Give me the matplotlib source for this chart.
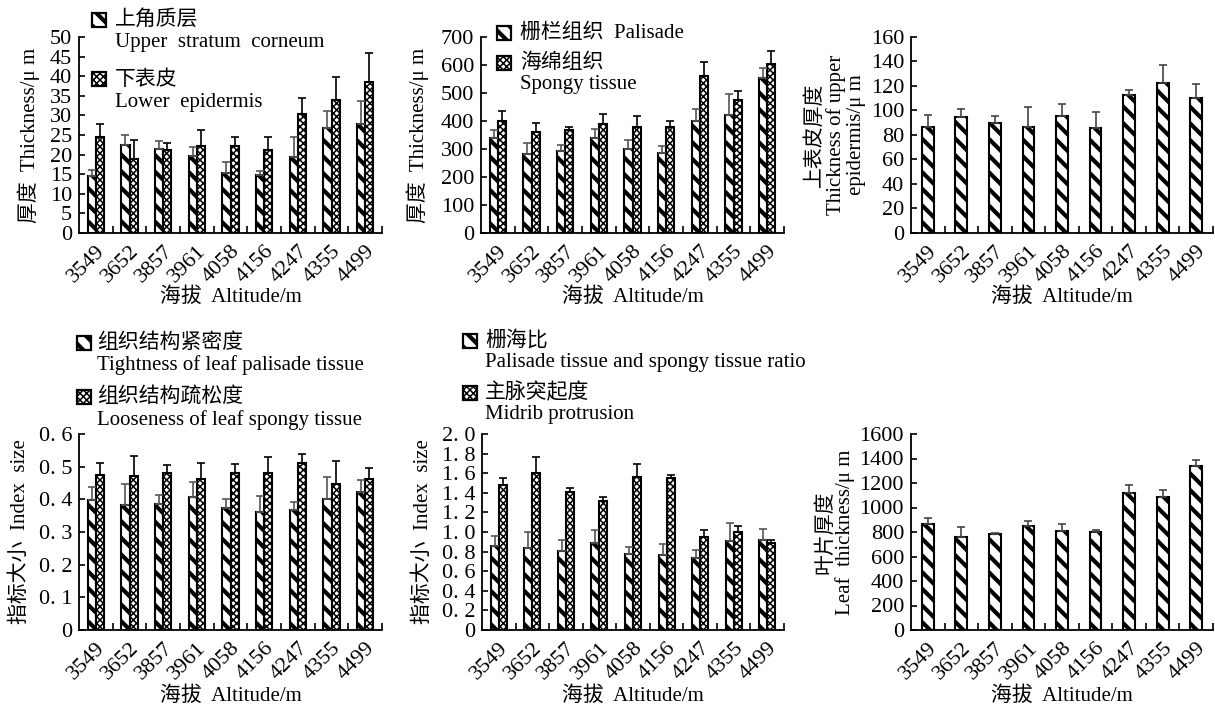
import numpy as np
import matplotlib
matplotlib.use('Agg')
import matplotlib.pyplot as plt
from matplotlib.patches import Rectangle

plt.rcParams['font.family'] = ['Liberation Serif', 'Noto Sans CJK SC']
plt.rcParams['font.size'] = 15
plt.rcParams['hatch.linewidth'] = 2.2
plt.rcParams['axes.linewidth'] = 1.3

W, H = 1215, 709

altitude = ['3549', '3652', '3857', '3961', '4058', '4156', '4247', '4355', '4499']

# upper stratum corneum / lower epidermis (um)
upper_cor = [14.5, 22.4, 21.5, 19.6, 15.3, 14.9, 19.3, 26.8, 27.9]
upper_cor_sd = [1.5, 2.7, 2.0, 2.3, 2.8, 1.0, 5.1, 4.2, 5.7]
lower_epi = [24.4, 18.9, 21.2, 22.1, 22.1, 21.3, 30.4, 34.0, 38.6]
lower_epi_sd = [3.3, 4.7, 1.8, 4.1, 2.3, 3.1, 4.1, 5.7, 7.3]

# palisade / spongy tissue (um)
palisade = [338, 282, 294, 338, 300, 285, 401, 423, 552]
palisade_sd = [30, 38, 21, 32, 31, 27, 41, 72, 36]
spongy = [400, 361, 368, 388, 380, 377, 561, 475, 605]
spongy_sd = [37, 33, 12, 37, 38, 24, 49, 31, 44]

# upper epidermis (um)
upper_epi = [86.8, 94.7, 90.1, 86.8, 95.2, 85.7, 112.7, 122.4, 109.9]
upper_epi_sd = [9.3, 6.8, 5.4, 16.1, 9.8, 12.8, 4.0, 14.5, 12.0]

# tightness / looseness
tight = [0.399, 0.382, 0.386, 0.406, 0.372, 0.362, 0.366, 0.400, 0.423]
tight_sd = [0.040, 0.066, 0.028, 0.048, 0.029, 0.048, 0.025, 0.069, 0.035]
loose = [0.474, 0.470, 0.480, 0.462, 0.480, 0.480, 0.510, 0.447, 0.463]
loose_sd = [0.037, 0.064, 0.026, 0.049, 0.027, 0.049, 0.029, 0.069, 0.034]

# palisade/spongy ratio, midrib protrusion
ratio = [0.854, 0.837, 0.810, 0.891, 0.779, 0.762, 0.731, 0.912, 0.922]
ratio_sd = [0.109, 0.166, 0.105, 0.126, 0.068, 0.112, 0.082, 0.180, 0.112]
midrib = [1.476, 1.599, 1.412, 1.313, 1.558, 1.548, 0.952, 0.997, 0.888]
midrib_sd = [0.072, 0.163, 0.040, 0.044, 0.132, 0.030, 0.065, 0.068, 0.034]

# leaf thickness (um)
leaf = [864, 757, 782, 847, 809, 801, 1120, 1084, 1335]
leaf_sd = [49, 85, 8, 39, 60, 16, 60, 60, 52]

HATCH1 = '\\\\'
HATCH2 = 'xxxxx'
HLW = {HATCH1: 3.0, HATCH2: 1.1}


def set_hlw(p, hatch):
    if hasattr(p, 'set_hatch_linewidth'):
        p.set_hatch_linewidth(HLW[hatch])


def add_ax(fig, left, top, right, bottom):
    return fig.add_axes([left / W, 1 - bottom / H, (right - left) / W, (bottom - top) / H])


def bars(ax, vals, sd, offset, width, hatch, ecol):
    x = np.arange(len(vals)) + offset
    err = [np.zeros(len(vals)), sd]
    b = ax.bar(x, vals, width, color='white', edgecolor='black', linewidth=1.5,
               hatch=hatch, yerr=err,
               error_kw=dict(ecolor=ecol, elinewidth=1.2, capsize=3, capthick=1.2))
    for p in b:
        set_hlw(p, hatch)
    return b


def style(ax, ymax, step, labels=None):
    ax.set_xlim(-0.5, 8.5)
    ax.set_ylim(0, ymax)
    ax.spines['top'].set_visible(False)
    ax.spines['right'].set_visible(False)
    yt = np.arange(0, ymax + step / 2, step)
    ax.set_yticks(yt)
    if labels is not None:
        ax.set_yticklabels(labels)
    ax.set_xticks(np.arange(9))
    ax.set_xticklabels(altitude, rotation=45, ha='right', rotation_mode='anchor')
    ax.set_xticks(np.arange(9) + 0.5, minor=True)
    ax.tick_params(axis='x', which='major', length=0, pad=6, labelsize=16)
    ax.tick_params(axis='x', which='minor', direction='in', length=5, width=1.2)
    ax.tick_params(axis='y', direction='in', length=4, width=1.2, pad=5, labelsize=16)
    ax.set_xlabel('海拔  Altitude/m')


def legend_item(fig, x, y, hatch):
    r = Rectangle((x / W, 1 - (y + 14) / H), 14 / W, 14 / H, transform=fig.transFigure,
                  facecolor='white', edgecolor='black', hatch=hatch, linewidth=1.6)
    set_hlw(r, hatch)
    fig.add_artist(r)


def ftext(fig, x, y, s):
    fig.text(x / W, 1 - y / H, s, ha='left', va='center')


fig = plt.figure(figsize=(W / 100, H / 100), dpi=100)

bw = 0.24

# panel 1
ax1 = add_ax(fig, 79, 37, 382, 233)
bars(ax1, upper_cor, upper_cor_sd, -bw / 2, bw, HATCH1, '#555555')
bars(ax1, lower_epi, lower_epi_sd, bw / 2, bw, HATCH2, 'black')
style(ax1, 50, 5)
ax1.set_ylabel('厚度  Thickness/μ m')
ax1.yaxis.set_label_coords(-0.13, 0.5)
ax1.xaxis.set_label_coords(0.5, -0.28)
legend_item(fig, 92, 13, HATCH1)
ftext(fig, 115, 20, '上角质层')
ftext(fig, 115, 42, 'Upper  stratum  corneum')
legend_item(fig, 92, 72, HATCH2)
ftext(fig, 115, 80, '下表皮')
ftext(fig, 115, 103, 'Lower  epidermis')

# panel 2
ax2 = add_ax(fig, 481, 37, 784, 233)
bars(ax2, palisade, palisade_sd, -bw / 2, bw, HATCH1, '#555555')
bars(ax2, spongy, spongy_sd, bw / 2, bw, HATCH2, 'black')
style(ax2, 700, 100)
ax2.set_ylabel('厚度  Thickness/μ m')
ax2.yaxis.set_label_coords(-0.172, 0.5)
ax2.xaxis.set_label_coords(0.5, -0.28)
legend_item(fig, 497, 26, HATCH1)
ftext(fig, 520, 33, '栅栏组织  Palisade')
legend_item(fig, 497, 56, HATCH2)
ftext(fig, 520, 63, '海绵组织')
ftext(fig, 520, 85, 'Spongy tissue')

# panel 3
ax3 = add_ax(fig, 911, 37, 1213, 233)
bars(ax3, upper_epi, upper_epi_sd, 0, 0.35, HATCH1, '#444444')
style(ax3, 160, 20)
ax3.set_ylabel('上表皮厚度\nThickness of upper\nepidermis/μ m', linespacing=1.05)
ax3.yaxis.set_label_coords(-0.15, 0.5)
ax3.xaxis.set_label_coords(0.5, -0.28)

# panel 4
ax4 = add_ax(fig, 79, 434, 382, 630)
bars(ax4, tight, tight_sd, -bw / 2, bw, HATCH1, '#555555')
bars(ax4, loose, loose_sd, bw / 2, bw, HATCH2, 'black')
style(ax4, 0.6, 0.1, ['0', '0. 1', '0. 2', '0. 3', '0. 4', '0. 5', '0. 6'])
ax4.set_ylabel('指标大小  Index  size')
ax4.yaxis.set_label_coords(-0.162, 0.5)
ax4.xaxis.set_label_coords(0.5, -0.29)
legend_item(fig, 77, 336, HATCH1)
ftext(fig, 97, 343, '组织结构紧密度')
ftext(fig, 97, 365, 'Tightness of leaf palisade tissue')
legend_item(fig, 77, 390, HATCH2)
ftext(fig, 97, 397, '组织结构疏松度')
ftext(fig, 97, 420, 'Looseness of leaf spongy tissue')

# panel 5
ax5 = add_ax(fig, 482, 434, 784, 630)
bars(ax5, ratio, ratio_sd, -bw / 2, bw, HATCH1, '#555555')
bars(ax5, midrib, midrib_sd, bw / 2, bw, HATCH2, 'black')
style(ax5, 2.0, 0.2, ['0', '0. 2', '0. 4', '0. 6', '0. 8', '1. 0',
                      '1. 2', '1. 4', '1. 6', '1. 8', '2. 0'])
ax5.set_ylabel('指标大小  Index  size')
ax5.yaxis.set_label_coords(-0.162, 0.5)
ax5.xaxis.set_label_coords(0.5, -0.29)
legend_item(fig, 463, 334, HATCH1)
ftext(fig, 485, 341, '栅海比')
ftext(fig, 485, 362, 'Palisade tissue and spongy tissue ratio')
legend_item(fig, 463, 386, HATCH2)
ftext(fig, 485, 393, '主脉突起度')
ftext(fig, 485, 415, 'Midrib protrusion')

# panel 6
ax6 = add_ax(fig, 911, 434, 1213, 630)
bars(ax6, leaf, leaf_sd, 0, 0.35, HATCH1, '#444444')
style(ax6, 1600, 200)
ax6.set_ylabel('叶片厚度\nLeaf  thickness/μ m', linespacing=1.0)
ax6.yaxis.set_label_coords(-0.185, 0.5)
ax6.xaxis.set_label_coords(0.5, -0.29)

fig.savefig('out.png', dpi=100)
